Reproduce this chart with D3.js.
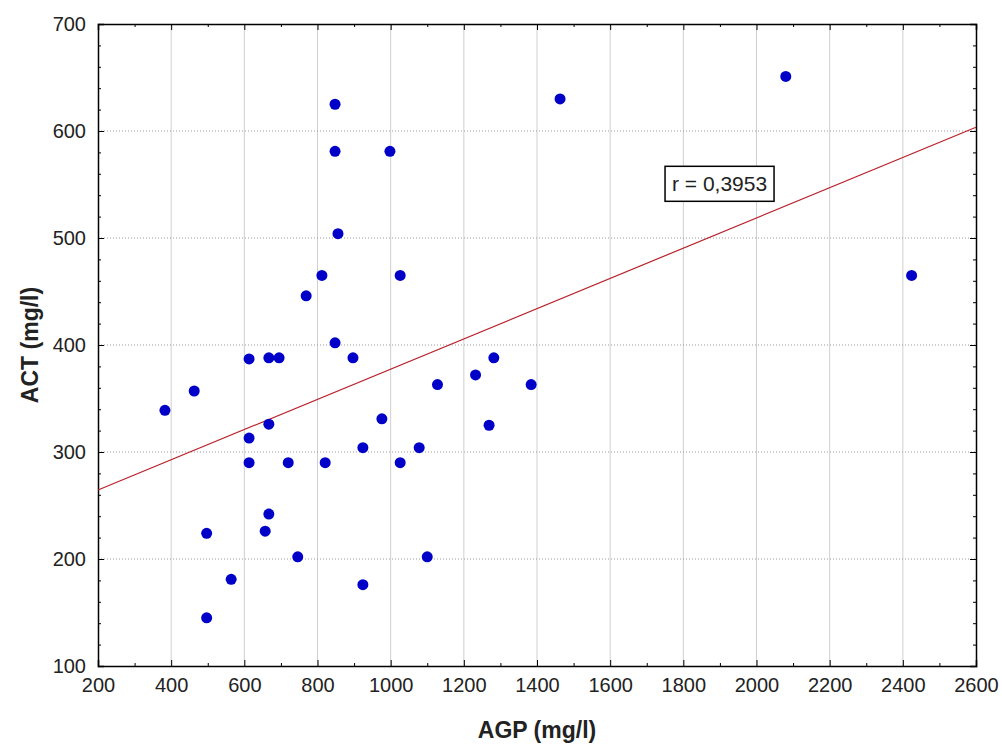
<!DOCTYPE html>
<html lang="en">
<head>
<meta charset="UTF-8">
<title>ACT vs AGP</title>
<script src="https://cdnjs.cloudflare.com/ajax/libs/d3/7.8.5/d3.min.js"></script>
<style>
  body { margin: 0; background: #fff; }
  svg { display: block; font-family: "Liberation Sans", Arial, sans-serif; }
</style>
</head>
<body>
<div id="chart"></div>
<script>
// AGP (mg/l)
const agp = [383, 463, 497, 497, 564, 613, 613, 613, 667, 667, 667, 657, 695, 720, 746,
             769, 812, 821, 848, 848, 856, 848, 897, 924, 924, 976, 998, 1026, 1026, 1078,
             1100, 1128, 1232, 1269, 1282, 1384, 1463, 2080, 2424];
// ACT (mg/l)
const act = [339, 357, 224, 145, 181, 387, 313, 290, 388, 326, 242, 226, 388, 290, 202,
             446, 465, 290, 625, 581, 504, 402, 388, 304, 176, 331, 581, 465, 290, 304,
             202, 363, 372, 325, 388, 363, 630, 651, 465];
// fitted line as drawn in the original (AGP, ACT at both ends)
const fitX = [200, 2600];
const fitY = [264.5, 603.5];
const xTicks = [200, 400, 600, 800, 1000, 1200, 1400, 1600, 1800, 2000, 2200, 2400, 2600];
const yTicks = [100, 200, 300, 400, 500, 600, 700];
const rLabel = "r = 0,3953";

const W = 1002, H = 747;
const m = { left: 98, right: 1002 - 976, top: 24, bottom: 747 - 666 };

const svg = d3.select("#chart").append("svg").attr("width", W).attr("height", H);

const x = d3.scaleLinear().domain([200, 2600]).range([m.left, W - m.right]);
const y = d3.scaleLinear().domain([100, 700]).range([H - m.bottom, m.top]);

// grid
svg.append("g").selectAll("line").data(xTicks.slice(1, -1)).join("line")
  .attr("x1", d => x(d)).attr("x2", d => x(d))
  .attr("y1", m.top).attr("y2", H - m.bottom)
  .attr("stroke", "#cfcfcf").attr("stroke-width", 1);
svg.append("g").selectAll("line").data(yTicks.slice(1, -1)).join("line")
  .attr("x1", m.left).attr("x2", W - m.right)
  .attr("y1", d => y(d)).attr("y2", d => y(d))
  .attr("stroke", "#999").attr("stroke-width", 1).attr("stroke-dasharray", "1,2");

// axes with inward ticks
const xMinor = d3.range(300, 2600, 200);
const yMinor = d3.range(100, 700, 20).filter(v => v % 100 !== 0);

function axis(gen, tr, major, minor, labels) {
  const g = svg.append("g").attr("transform", tr);
  g.call(gen(major.scale).tickValues(major.vals).tickSize(-6).tickPadding(labels ? 12 : 0)
    .tickFormat(labels ? d3.format("d") : ""));
  g.call(a => a.selectAll(".tick text").attr("font-size", 20).attr("fill", "#222"));
  const g2 = svg.append("g").attr("transform", tr);
  g2.call(gen(major.scale).tickValues(minor).tickSize(-3).tickFormat(""));
  g2.select(".domain").remove();
  [g, g2].forEach(s => s.selectAll("line").attr("stroke", "#000"));
  g.select(".domain").attr("stroke", "#000").attr("stroke-width", 1.5);
  return g;
}
axis(d3.axisBottom, `translate(0,${H - m.bottom})`, { scale: x, vals: xTicks }, xMinor, true);
axis(d3.axisTop, `translate(0,${m.top})`, { scale: x, vals: xTicks }, xMinor, false);
axis(d3.axisLeft, `translate(${m.left},0)`, { scale: y, vals: yTicks }, yMinor, true);
axis(d3.axisRight, `translate(${W - m.right},0)`, { scale: y, vals: yTicks }, yMinor, false);

// regression line
svg.append("line")
  .attr("x1", x(fitX[0])).attr("y1", y(fitY[0]))
  .attr("x2", x(fitX[1])).attr("y2", y(fitY[1]))
  .attr("stroke", "#b8202a").attr("stroke-width", 1.2);

// points
svg.append("g").selectAll("circle").data(agp).join("circle")
  .attr("cx", d => x(d)).attr("cy", (d, i) => y(act[i])).attr("r", 5.5)
  .attr("fill", "#0000c8");

// r label
const lab = svg.append("g").attr("transform", `translate(${x(1750)},${y(567)})`);
lab.append("rect").attr("width", 109).attr("height", 35)
  .attr("fill", "#fff").attr("stroke", "#000").attr("stroke-width", 1.5);
lab.append("text").attr("x", 54.5).attr("y", 25).attr("text-anchor", "middle")
  .attr("font-size", 21).attr("fill", "#222").text(rLabel);

// titles
svg.append("text").attr("x", (x(200) + x(2600)) / 2).attr("y", 738)
  .attr("text-anchor", "middle").attr("font-size", 23).attr("font-weight", "bold")
  .attr("fill", "#222").text("AGP (mg/l)");
svg.append("text").attr("transform", `translate(38,${(y(100) + y(700)) / 2}) rotate(-90)`)
  .attr("text-anchor", "middle").attr("font-size", 23).attr("font-weight", "bold")
  .attr("fill", "#222").text("ACT (mg/l)");
</script>
</body>
</html>
